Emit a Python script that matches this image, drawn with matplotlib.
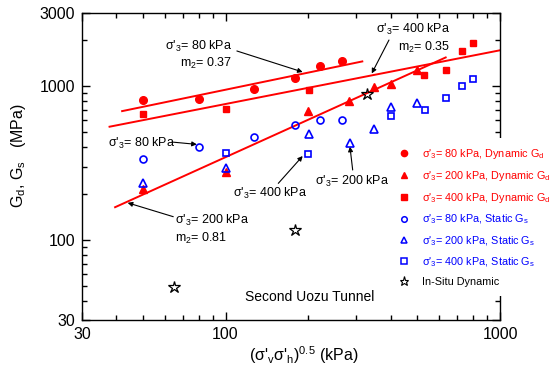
import numpy as np
import matplotlib
matplotlib.use('Agg')
from matplotlib import pyplot as plt
from matplotlib.lines import Line2D
from matplotlib.ticker import FixedLocator, NullFormatter

plt.rcParams['font.family'] = ['Liberation Sans', 'DejaVu Sans']
plt.rcParams['mathtext.default'] = 'regular'

# dynamic Gd (MPa)
dyn80_x = [50, 80, 127, 179, 220, 266]
dyn80_y = [810, 820, 955, 1130, 1355, 1470]
dyn200_x = [50, 100, 200, 282, 347, 401, 500]
dyn200_y = [213, 276, 690, 805, 984, 1034, 1270]
dyn400_x = [50, 100, 201, 530, 634, 725, 800]
dyn400_y = [659, 714, 945, 1178, 1276, 1697, 1922]

# static Gs (MPa)
sta80_x = [50, 80, 127, 179, 220, 266]
sta80_y = [334, 404, 469, 562, 603, 603]
sta200_x = [50, 100, 201, 283, 347, 402, 500]
sta200_y = [233, 293, 486, 425, 529, 729, 781]
sta400_x = [100, 200, 402, 532, 634, 725, 800]
sta400_y = [369, 360, 640, 703, 834, 1004, 1110]

# in-situ
insitu_x = [65, 179, 327]
insitu_y = [49.5, 115, 886]

# power-law fits G = G100 * (x/100)^m
fit_m = {'80': 0.37, '200': 0.81, '400': 0.35}
fit_g100 = {'80': 949, '200': 345, '400': 766}
fit_range = {'80': (42, 315), '200': (39.6, 634), '400': (37.8, 1000)}

red = '#ff0000'
blue = '#0000ff'

fig = plt.figure(figsize=(5.58, 3.71), dpi=100)
ax = fig.add_axes([82 / 558, 1 - 320 / 371, 418 / 558, 307 / 371])

for key in ['80', '400', '200']:
    xs = np.geomspace(fit_range[key][0], fit_range[key][1], 50)
    ax.plot(xs, fit_g100[key] * (xs / 100) ** fit_m[key], color=red, lw=1.4, zorder=2)

ax.plot(dyn80_x, dyn80_y, 'o', color=red, ms=5.5, zorder=3)
ax.plot(dyn200_x, dyn200_y, '^', color=red, ms=6, zorder=3)
ax.plot(dyn400_x, dyn400_y, 's', color=red, ms=5, zorder=3)
ax.plot(sta80_x, sta80_y, 'o', color=blue, mfc='none', mew=1.2, ms=5, zorder=4)
ax.plot(sta200_x, sta200_y, '^', color=blue, mfc='none', mew=1.2, ms=6, zorder=4)
ax.plot(sta400_x, sta400_y, 's', color=blue, mfc='none', mew=1.2, ms=5, zorder=4)
ax.plot(insitu_x, insitu_y, '*', color='k', mfc='none', mew=0.9, ms=9, zorder=4)

ax.set_xscale('log')
ax.set_yscale('log')
ax.set_xlim(30, 1000)
ax.set_ylim(30, 3000)
ax.xaxis.set_major_locator(FixedLocator([30, 100, 1000]))
ax.xaxis.set_minor_locator(FixedLocator([40, 50, 60, 70, 80, 90, 200, 300, 400, 500, 600, 700, 800, 900]))
ax.yaxis.set_major_locator(FixedLocator([30, 100, 1000, 3000]))
ax.yaxis.set_minor_locator(FixedLocator([40, 50, 60, 70, 80, 90, 200, 300, 400, 500, 600, 700, 800, 900, 2000]))
ax.set_xticklabels(['30', '100', '1000'])
ax.set_yticklabels(['30', '100', '1000', '3000'])
ax.xaxis.set_minor_formatter(NullFormatter())
ax.yaxis.set_minor_formatter(NullFormatter())
ax.tick_params(which='both', direction='in', top=True, right=True, width=1, labelsize=11.5, pad=5)
ax.tick_params(which='major', length=6)
ax.tick_params(which='minor', length=3.5)
for sp in ax.spines.values():
    sp.set_linewidth(1.0)

ax.set_xlabel("(σ'$_v$σ'$_h$)$^{0.5}$ (kPa)", fontsize=11.5)
ax.xaxis.set_label_coords(0.531, -0.08)
ax.set_ylabel("G$_d$, G$_s$   (MPa)", fontsize=11.5)
ax.yaxis.set_label_coords(-0.129, 0.537)

# annotations
arrow = dict(arrowstyle='-|>', color='k', lw=0.8, mutation_scale=7, shrinkA=0, shrinkB=0)
fs = 9
ax.text(105.6, 1598, "σ'$_3$= 80 kPa\nm$_2$= 0.37", ha='right', va='center', multialignment='right', fontsize=fs)
ax.annotate('', xy=(191, 1238), xytext=(110, 1697), arrowprops=arrow)
ax.text(657, 2052, "σ'$_3$= 400 kPa\nm$_2$= 0.35", ha='right', va='center', multialignment='right', fontsize=fs)
ax.annotate('', xy=(341, 1212), xytext=(394, 2000), arrowprops=arrow)
ax.text(37.3, 427, "σ'$_3$= 80 kPa", ha='left', va='center', fontsize=fs)
ax.annotate('', xy=(78.6, 418), xytext=(63.8, 433), arrowprops=arrow)
ax.text(106.5, 201.7, "σ'$_3$= 400 kPa", ha='left', va='center', fontsize=fs)
ax.annotate('', xy=(191, 351), xytext=(155.7, 233), arrowprops=arrow)
ax.text(211.8, 238.8, "σ'$_3$= 200 kPa", ha='left', va='center', fontsize=fs)
ax.annotate('', xy=(284, 404), xytext=(290.6, 284.7), arrowprops=arrow)
ax.text(65.5, 116.8, "σ'$_3$= 200 kPa\nm$_2$= 0.81", ha='left', va='center', fontsize=fs)
ax.annotate('', xy=(44, 174), xytext=(64.5, 141.3), arrowprops=arrow)
ax.text(203, 42.5, 'Second Uozu Tunnel', ha='center', va='center', fontsize=10)

handles = [
    Line2D([], [], ls='none', marker='o', color=red, ms=4.5),
    Line2D([], [], ls='none', marker='^', color=red, ms=5),
    Line2D([], [], ls='none', marker='s', color=red, ms=4),
    Line2D([], [], ls='none', marker='o', color=blue, mfc='none', mew=1.1, ms=4),
    Line2D([], [], ls='none', marker='^', color=blue, mfc='none', mew=1.1, ms=4.5),
    Line2D([], [], ls='none', marker='s', color=blue, mfc='none', mew=1.1, ms=4),
    Line2D([], [], ls='none', marker='*', color='k', mfc='none', mew=0.8, ms=6.5),
]
labels = [
    "σ'$_3$= 80 kPa, Dynamic G$_d$",
    "σ'$_3$= 200 kPa, Dynamic G$_d$",
    "σ'$_3$= 400 kPa, Dynamic G$_d$",
    "σ'$_3$= 80 kPa, Static G$_s$",
    "σ'$_3$= 200 kPa, Static G$_s$",
    "σ'$_3$= 400 kPa, Static G$_s$",
    'In-Situ Dynamic',
]
leg = ax.legend(handles, labels, loc='upper left', bbox_to_anchor=(389 / 558, 1 - 138 / 371),
                bbox_transform=fig.transFigure, fontsize=7.8, frameon=True, fancybox=False,
                facecolor='white', edgecolor='none', framealpha=1, borderpad=0.85,
                handlelength=1.0, handletextpad=1.2, labelspacing=0.72, borderaxespad=0,
                labelcolor=[red, red, red, blue, blue, blue, 'k'])
leg.set_zorder(10)

fig.savefig('out.png', dpi=100)
